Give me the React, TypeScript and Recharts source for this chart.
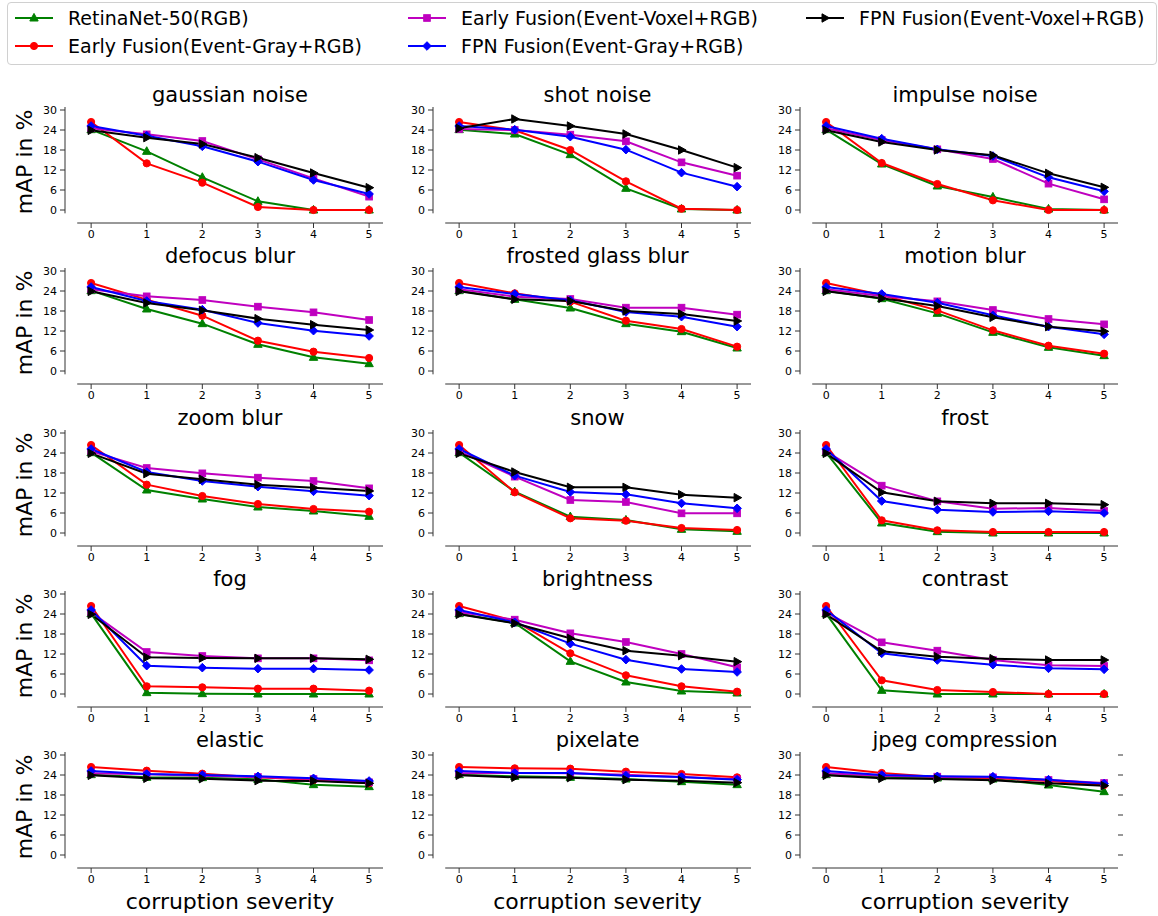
import { LineChart, Line, XAxis, YAxis, ReferenceLine } from 'recharts';

const SEVERITY = [0, 1, 2, 3, 4, 5];
const Y_TICKS = [0, 6, 12, 18, 24, 30];

const CORRUPTIONS = [
  'gaussian noise', 'shot noise', 'impulse noise',
  'defocus blur', 'frosted glass blur', 'motion blur',
  'zoom blur', 'snow', 'frost',
  'fog', 'brightness', 'contrast',
  'elastic', 'pixelate', 'jpeg compression',
];

// one row per corruption, one value per severity 0..5
const RETINANET = [
  [24.1, 17.6, 9.8, 2.6, 0, 0],
  [24.1, 22.8, 16.6, 6.5, 0.3, 0],
  [24.1, 13.8, 7.2, 3.9, 0.3, 0],
  [24.1, 18.6, 14.2, 8.0, 4.1, 2.2],
  [24.1, 21.5, 18.9, 14.2, 11.8, 6.9],
  [24.1, 21.7, 17.3, 11.6, 7.1, 4.6],
  [24.1, 12.9, 10.2, 7.8, 6.6, 5.0],
  [24.1, 12.4, 4.9, 3.9, 1.1, 0.5],
  [24.1, 3.0, 0.4, 0, 0, 0],
  [24.1, 0.4, 0.1, 0, 0, 0],
  [24.1, 21.3, 9.8, 3.6, 0.9, 0.3],
  [24.1, 1.1, 0, 0, 0, 0],
  [24.1, 23.3, 23.2, 22.7, 21.1, 20.5],
  [24.1, 23.6, 23.3, 22.8, 22.0, 21.1],
  [24.1, 23.5, 23.1, 22.8, 21.0, 19.0],
];

const EARLY_GRAY = [
  [26.4, 14.0, 8.2, 0.9, 0, 0],
  [26.4, 23.9, 18.0, 8.6, 0.4, 0],
  [26.4, 14.1, 7.8, 2.9, 0, 0],
  [26.4, 21.4, 16.6, 9.1, 5.8, 3.9],
  [26.4, 23.3, 20.8, 15.1, 12.6, 7.3],
  [26.4, 22.8, 18.2, 12.2, 7.6, 5.2],
  [26.4, 14.5, 11.1, 8.7, 7.2, 6.4],
  [26.4, 12.2, 4.4, 3.7, 1.5, 0.9],
  [26.4, 3.8, 0.8, 0.3, 0.3, 0.3],
  [26.4, 2.3, 2.0, 1.6, 1.6, 1.0],
  [26.4, 21.9, 12.2, 5.6, 2.3, 0.7],
  [26.4, 4.1, 1.2, 0.6, 0, 0],
  [26.4, 25.3, 24.4, 23.3, 22.5, 21.5],
  [26.4, 26.0, 25.9, 25.0, 24.3, 23.3],
  [26.4, 24.6, 23.4, 23.1, 22.2, 21.0],
];

const EARLY_VOXEL = [
  [24.5, 22.7, 20.7, 15.2, 9.5, 4.0],
  [24.3, 24.0, 22.6, 20.6, 14.3, 10.3],
  [24.5, 21.0, 18.2, 15.3, 7.9, 3.2],
  [24.5, 22.4, 21.3, 19.3, 17.6, 15.3],
  [24.5, 22.3, 21.6, 19.0, 19.0, 16.9],
  [24.5, 22.5, 20.9, 18.3, 15.6, 14.0],
  [24.5, 19.5, 17.9, 16.6, 15.6, 13.4],
  [24.5, 16.9, 9.9, 9.3, 5.9, 5.9],
  [24.5, 14.2, 9.5, 7.3, 7.5, 6.6],
  [24.5, 12.6, 11.4, 10.7, 10.7, 10.1],
  [24.5, 22.3, 18.2, 15.6, 12.0, 8.0],
  [24.5, 15.5, 13.0, 10.2, 8.6, 8.4],
  [24.5, 24.2, 23.8, 23.4, 22.8, 21.8],
  [24.5, 24.6, 24.5, 24.1, 23.4, 22.7],
  [24.5, 23.8, 23.5, 23.3, 22.5, 21.6],
];

const FPN_GRAY = [
  [25.2, 22.3, 19.1, 14.5, 9.0, 4.8],
  [25.2, 24.1, 22.0, 18.1, 11.2, 7.0],
  [25.2, 21.4, 18.2, 16.2, 9.8, 5.6],
  [25.2, 21.0, 18.4, 14.4, 12.1, 10.5],
  [25.2, 23.1, 21.2, 17.7, 16.3, 13.3],
  [25.2, 23.1, 20.5, 16.7, 13.3, 11.0],
  [25.2, 18.3, 15.6, 13.9, 12.5, 11.2],
  [25.2, 17.2, 12.3, 11.6, 8.9, 7.4],
  [25.2, 9.6, 7.0, 6.3, 6.5, 6.0],
  [25.2, 8.5, 7.9, 7.6, 7.6, 7.2],
  [25.2, 21.5, 15.1, 10.3, 7.5, 6.6],
  [25.2, 12.2, 10.2, 8.8, 7.7, 7.4],
  [25.2, 24.3, 24.0, 23.6, 23.0, 22.2],
  [25.2, 24.6, 24.6, 23.8, 23.4, 22.6],
  [25.2, 24.0, 23.6, 23.5, 22.6, 21.4],
];

const FPN_VOXEL = [
  [23.9, 21.7, 19.8, 15.7, 11.1, 6.7],
  [24.5, 27.3, 25.2, 22.8, 18.0, 12.7],
  [23.9, 20.4, 18.0, 16.4, 11.0, 6.8],
  [23.9, 20.4, 18.2, 15.7, 13.9, 12.3],
  [23.9, 21.5, 21.0, 18.0, 17.1, 15.0],
  [23.9, 21.8, 19.5, 16.1, 13.3, 11.9],
  [23.9, 17.8, 16.1, 14.5, 13.6, 12.6],
  [23.9, 18.3, 13.7, 13.7, 11.5, 10.6],
  [23.9, 12.2, 9.5, 8.9, 8.9, 8.5],
  [23.9, 11.0, 10.8, 10.7, 10.7, 10.4],
  [23.9, 21.2, 16.7, 13.0, 11.5, 9.7],
  [23.9, 12.8, 11.2, 10.6, 10.2, 10.2],
  [23.9, 23.0, 22.9, 22.3, 22.2, 21.5],
  [23.9, 23.3, 23.2, 22.6, 22.3, 21.7],
  [23.9, 23.0, 22.8, 22.4, 21.5, 20.8],
];

type Shape = 'tri' | 'circle' | 'square' | 'diamond' | 'right';

const SERIES: { key: string; name: string; color: string; shape: Shape; values: number[][] }[] = [
  { key: 'retina', name: 'RetinaNet-50(RGB)', color: '#008000', shape: 'tri', values: RETINANET },
  { key: 'earlyGray', name: 'Early Fusion(Event-Gray+RGB)', color: '#ff0000', shape: 'circle', values: EARLY_GRAY },
  { key: 'earlyVoxel', name: 'Early Fusion(Event-Voxel+RGB)', color: '#bf00bf', shape: 'square', values: EARLY_VOXEL },
  { key: 'fpnGray', name: 'FPN Fusion(Event-Gray+RGB)', color: '#0000ff', shape: 'diamond', values: FPN_GRAY },
  { key: 'fpnVoxel', name: 'FPN Fusion(Event-Voxel+RGB)', color: '#000000', shape: 'right', values: FPN_VOXEL },
];

const FONT = '"DejaVu Sans", sans-serif';
const AXIS = '#333';
const PLOT_W = 318;
const PLOT_H = 116;
const TOP_PAD = 8;
const YAXIS_W = 40;
const XAXIS_H = 30;
const RIGHT_W = 12;
const COL_STEP = 367.5;
const ROW_STEP = 161.25;
const X_DOMAIN: [number, number] = [-0.47, 5.25];
const Y_DOMAIN: [number, number] = [-3.9, 30.9];

function Marker({ cx, cy, shape, color }: { cx: number; cy: number; shape: Shape; color: string }) {
  if (cx == null || cy == null) return null;
  if (shape === 'circle') return <circle cx={cx} cy={cy} r={3.6} fill={color} stroke={color} />;
  if (shape === 'square') return <rect x={cx - 3.3} y={cy - 3.3} width={6.6} height={6.6} fill={color} stroke={color} />;
  let pts = '';
  if (shape === 'tri') pts = `${cx},${cy - 4.6} ${cx - 4.2},${cy + 3} ${cx + 4.2},${cy + 3}`;
  if (shape === 'diamond') pts = `${cx},${cy - 4.3} ${cx + 4.3},${cy} ${cx},${cy + 4.3} ${cx - 4.3},${cy}`;
  if (shape === 'right') pts = `${cx + 4.6},${cy} ${cx - 3},${cy - 4.2} ${cx - 3},${cy + 4.2}`;
  return <polygon points={pts} fill={color} stroke={color} />;
}

function Panel({ idx }: { idx: number }) {
  const row = Math.floor(idx / 3);
  const col = idx % 3;
  const hasRight = idx === 14;
  const data = SEVERITY.map((s, i) => {
    const d: Record<string, number> = { s };
    SERIES.forEach((se) => (d[se.key] = se.values[idx][i]));
    return d;
  });
  const left = 65 + col * COL_STEP - YAXIS_W;
  const top = 107 + row * ROW_STEP - TOP_PAD;
  const centerX = 230 + col * COL_STEP;

  return (
    <>
      <div
        style={{
          position: 'absolute', left: centerX - 160, width: 320, top: 83 + row * ROW_STEP,
          textAlign: 'center', fontSize: 21, lineHeight: '25px',
        }}
      >
        {CORRUPTIONS[idx]}
      </div>
      <div style={{ position: 'absolute', left, top }}>
        <LineChart
          width={YAXIS_W + PLOT_W + RIGHT_W}
          height={TOP_PAD + PLOT_H + XAXIS_H}
          data={data}
          margin={{ top: TOP_PAD, right: hasRight ? 0 : RIGHT_W, bottom: 0, left: 0 }}
        >
          <XAxis
            dataKey="s"
            type="number"
            domain={X_DOMAIN}
            ticks={SEVERITY}
            allowDataOverflow
            interval={0}
            height={XAXIS_H}
            axisLine={false}
            tickSize={5}
            tickMargin={2}
            tickLine={{ stroke: AXIS }}
            tick={{ fontSize: 11, fill: '#000', fontFamily: FONT }}
          />
          <YAxis
            type="number"
            domain={Y_DOMAIN}
            ticks={Y_TICKS}
            allowDataOverflow
            interval={0}
            width={YAXIS_W}
            axisLine={false}
            tickSize={5}
            tickMargin={3}
            tickLine={{ stroke: AXIS }}
            tick={{ fontSize: 11, fill: '#000', fontFamily: FONT }}
          />
          {hasRight && (
            <YAxis
              yAxisId="r"
              orientation="right"
              type="number"
              domain={Y_DOMAIN}
              ticks={Y_TICKS}
              allowDataOverflow
              interval={0}
              width={RIGHT_W}
              axisLine={false}
              tickSize={5}
              tickLine={{ stroke: AXIS }}
              tick={{ fontSize: 1, fill: 'transparent' }}
            />
          )}
          <ReferenceLine
            segment={[{ x: -0.25, y: Y_DOMAIN[0] }, { x: 5.25, y: Y_DOMAIN[0] }]}
            stroke={AXIS}
            ifOverflow="visible"
          />
          <ReferenceLine
            segment={[{ x: X_DOMAIN[0], y: -1 }, { x: X_DOMAIN[0], y: 30.9 }]}
            stroke={AXIS}
            ifOverflow="visible"
          />
          {SERIES.map((se) => (
            <Line
              key={se.key}
              dataKey={se.key}
              stroke={se.color}
              strokeWidth={2}
              isAnimationActive={false}
              dot={(p: any) => (
                <Marker key={`${se.key}-${p.index}`} cx={p.cx} cy={p.cy} shape={se.shape} color={se.color} />
              )}
              activeDot={false}
            />
          ))}
        </LineChart>
      </div>
      {col === 0 && (
        <div
          style={{
            position: 'absolute', left: 25 - 80, top: 162 + row * ROW_STEP - 13, width: 160,
            textAlign: 'center', fontSize: 22, lineHeight: '26px', transform: 'rotate(-90deg)',
          }}
        >
          mAP in %
        </div>
      )}
      {row === 4 && (
        <div
          style={{
            position: 'absolute', left: centerX - 160, width: 320, top: 889,
            textAlign: 'center', fontSize: 22, lineHeight: '26px',
          }}
        >
          corruption severity
        </div>
      )}
    </>
  );
}

// handle start x / row centre y for each legend entry (column-major order)
const LEGEND_POS = [
  { x: 15, y: 18 },
  { x: 15, y: 46 },
  { x: 408, y: 18 },
  { x: 408, y: 46 },
  { x: 806, y: 18 },
];

function Legend() {
  return (
    <>
      <div
        style={{
          position: 'absolute', left: 7, top: 2, width: 1150, height: 63,
          border: '1px solid #d0d0d0', borderRadius: 4, boxSizing: 'border-box',
        }}
      />
      {SERIES.map((se, i) => (
        <div key={se.key}>
          <svg
            width={40}
            height={14}
            style={{ position: 'absolute', left: LEGEND_POS[i].x - 1, top: LEGEND_POS[i].y - 7 }}
          >
            <line x1={1} y1={7} x2={39} y2={7} stroke={se.color} strokeWidth={2} />
            <Marker cx={20} cy={7} shape={se.shape} color={se.color} />
          </svg>
          <span
            style={{
              position: 'absolute', left: LEGEND_POS[i].x + 53, top: LEGEND_POS[i].y - 12,
              fontSize: 19, lineHeight: '24px', whiteSpace: 'nowrap',
            }}
          >
            {se.name}
          </span>
        </div>
      ))}
    </>
  );
}

export default function App() {
  return (
    <div style={{ position: 'relative', width: 1158, height: 916, background: '#fff', fontFamily: FONT, color: '#000' }}>
      <style>{'body{margin:0}'}</style>
      <Legend />
      {CORRUPTIONS.map((_, i) => (
        <Panel key={i} idx={i} />
      ))}
    </div>
  );
}
